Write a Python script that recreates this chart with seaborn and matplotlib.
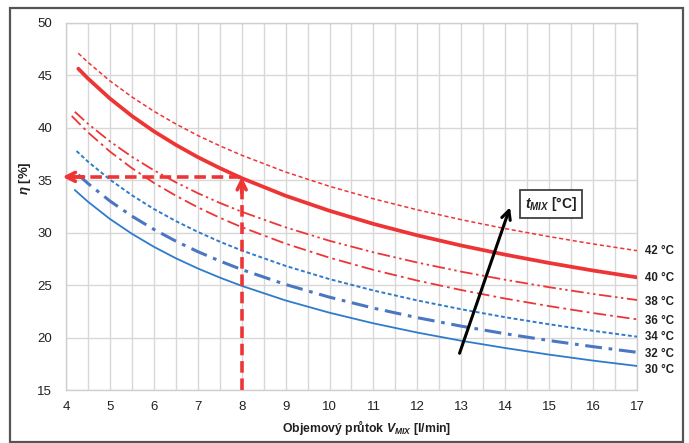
import matplotlib
matplotlib.use("Agg")
import matplotlib.pyplot as plt
import seaborn as sns
import pandas as pd
from matplotlib.patches import Rectangle

# ---- data ----
FLOW_GRID = [4.5, 5, 5.5, 6, 6.5, 7, 7.5, 8, 9, 10, 11, 12, 13, 14, 15, 16, 17]
TEMPS = ["30 °C", "32 °C", "34 °C", "36 °C", "38 °C", "40 °C", "42 °C"]
START_FLOW = [4.2, 4.28, 4.24, 4.13, 4.2, 4.28, 4.28]
START_ETA = [34.05, 35.5, 37.76, 41.1, 41.5, 45.6, 47.07]
ETA_30 = [32.93, 31.29, 29.88, 28.64, 27.55, 26.58, 25.71, 24.92, 23.53, 22.36, 21.35, 20.47, 19.69, 19.00, 18.37, 17.80, 17.29]
ETA_32 = [34.67, 33.00, 31.56, 30.30, 29.18, 28.18, 27.29, 26.47, 25.05, 23.84, 22.80, 21.89, 21.08, 20.36, 19.71, 19.13, 18.59]
ETA_34 = [36.75, 35.04, 33.55, 32.24, 31.09, 30.06, 29.13, 28.29, 26.82, 25.56, 24.48, 23.53, 22.69, 21.93, 21.26, 20.64, 20.08]
ETA_36 = [39.54, 37.71, 36.13, 34.73, 33.51, 32.40, 31.41, 30.51, 28.94, 27.60, 26.44, 25.42, 24.52, 23.71, 22.99, 22.33, 21.73]
ETA_38 = [40.36, 38.68, 37.21, 35.93, 34.78, 33.75, 32.82, 31.98, 30.49, 29.21, 28.11, 27.14, 26.27, 25.50, 24.79, 24.15, 23.57]
ETA_40 = [44.67, 42.76, 41.10, 39.64, 38.35, 37.18, 36.14, 35.18, 33.50, 32.07, 30.82, 29.73, 28.76, 27.89, 27.10, 26.38, 25.73]
ETA_42 = [46.21, 44.44, 42.91, 41.55, 40.34, 39.24, 38.26, 37.36, 35.76, 34.40, 33.21, 32.16, 31.22, 30.37, 29.61, 28.91, 28.27]
SERIES = [ETA_30, ETA_32, ETA_34, ETA_36, ETA_38, ETA_40, ETA_42]
LABEL_ETA = [16.95, 18.4, 20.05, 21.6, 23.4, 25.65, 28.25]

OP_FLOW = 8
OP_ETA = 35.3
ARROW_FROM = (12.96, 18.5)
ARROW_TO = (14.11, 32.4)
BOX_POS = (15.05, 32.7)

X_TICKS = [4, 5, 6, 7, 8, 9, 10, 11, 12, 13, 14, 15, 16, 17]
Y_TICKS = [15, 20, 25, 30, 35, 40, 45, 50]

rows = []
for t, sx, sy, vals in zip(TEMPS, START_FLOW, START_ETA, SERIES):
    rows.append((t, sx, sy))
    for f, v in zip(FLOW_GRID, vals):
        rows.append((t, f, v))
df = pd.DataFrame(rows, columns=["t", "flow", "eta"])

RED = "#EE3535"
BLUE = "#2F7BCB"
BLUE2 = "#4A76C2"
palette = {"30 °C": BLUE, "32 °C": BLUE2, "34 °C": BLUE, "36 °C": RED,
           "38 °C": RED, "40 °C": RED, "42 °C": RED}
sizes = {"30 °C": 1.3, "32 °C": 2.2, "34 °C": 1.4, "36 °C": 1.3,
         "38 °C": 1.3, "40 °C": 2.7, "42 °C": 1.1}
dashes = {"30 °C": "", "32 °C": (5.5, 2.2, 1.2, 2.2), "34 °C": (2.0, 1.3),
          "36 °C": (7, 2.3, 1.5, 2.3), "38 °C": (7, 2, 1.3, 2, 1.3, 2),
          "40 °C": "", "42 °C": (2.7, 1.8)}

sns.set_theme(style="white")
plt.rcParams["font.family"] = ["Liberation Sans", "DejaVu Sans"]
plt.rcParams["mathtext.fontset"] = "custom"
plt.rcParams["mathtext.it"] = "Liberation Sans:italic:bold"
plt.rcParams["mathtext.rm"] = "Liberation Sans:bold"
plt.rcParams["mathtext.bf"] = "Liberation Sans:bold"

fig = plt.figure(figsize=(6.89, 4.43), dpi=100)
ax = fig.add_axes([0.0958, 0.1196, 0.8287, 0.8296])

sns.lineplot(data=df, x="flow", y="eta", hue="t", style="t", size="t",
             palette=palette, dashes=dashes, sizes=sizes, legend=False,
             sort=False, estimator=None, ax=ax, zorder=3)
for ln in ax.lines:
    ln.set_solid_joinstyle("round")
    ln.set_dash_joinstyle("round")

ax.set_xlim(4, 17)
ax.set_ylim(15, 50)
ax.set_xticks(X_TICKS)
ax.set_xticks([x + 0.5 for x in X_TICKS[:-1]], minor=True)
ax.set_yticks(Y_TICKS)
ax.grid(True, which="both", axis="x", color="#D8D8D8", lw=1)
ax.grid(True, which="major", axis="y", color="#D8D8D8", lw=1)
ax.set_axisbelow(True)
for s in ax.spines.values():
    s.set_color("#CFCFCF")
    s.set_linewidth(1)
ax.tick_params(axis="both", which="both", length=0, labelsize=9.5, colors="#202020")
ax.tick_params(axis="x", pad=8)
ax.tick_params(axis="y", pad=10)

ax.set_xlabel(r"Objemový průtok $V_{MIX}$ [l/min]", fontsize=8.8, fontweight="bold",
              color="#202020")
ax.xaxis.label.set_va("center")
ax.xaxis.set_label_coords(0.527, -0.1007)
ax.set_ylabel(r"$\eta$ [%]", fontsize=9.5, fontweight="bold", color="#202020")
ax.yaxis.label.set_va("center")
ax.yaxis.set_label_coords(-0.0718, 0.577)

# temperature labels at right
for t, ly in zip(TEMPS, LABEL_ETA):
    ax.annotate(t, xy=(1.0, ly), xycoords=("axes fraction", "data"),
                xytext=(6, 0), textcoords="offset points", ha="left", va="center",
                fontsize=8.3, fontweight="bold", color="#202020", annotation_clip=False)

# operating point dashed arrows
ax.plot([OP_FLOW, OP_FLOW], [15, OP_ETA - 0.4], color=RED, lw=2.6,
        dashes=(3.2, 1.6), zorder=4, clip_on=False)
ax.plot([4.15, OP_FLOW], [OP_ETA, OP_ETA], color=RED, lw=2.6,
        dashes=(3.2, 1.6), zorder=4, clip_on=False)
ax.annotate("", xy=(OP_FLOW, OP_ETA), xytext=(OP_FLOW, OP_ETA - 1.5),
            arrowprops=dict(arrowstyle="->", lw=2.6, color=RED, mutation_scale=16,
                            shrinkA=0, shrinkB=0), zorder=5)
ax.annotate("", xy=(3.92, OP_ETA), xytext=(4.4, OP_ETA),
            arrowprops=dict(arrowstyle="->", lw=2.6, color=RED, mutation_scale=16,
                            shrinkA=0, shrinkB=0), zorder=5, annotation_clip=False)

# black trend arrow
ax.annotate("", xy=ARROW_TO, xytext=ARROW_FROM,
            arrowprops=dict(arrowstyle="->", lw=2.2, color="black", mutation_scale=16,
                            shrinkA=0, shrinkB=0), zorder=6)
ax.text(BOX_POS[0], BOX_POS[1], r"$t_{MIX}$ [°C]", ha="center", va="center",
        fontsize=10, fontweight="bold", color="#202020", zorder=7,
        bbox=dict(boxstyle="square,pad=0.35", fc="white", ec="#404040", lw=1.3))

# outer frame
fig.patches.append(Rectangle((0.0145, 0.003), 0.9768, 0.979, transform=fig.transFigure,
                             fill=False, ec="#555555", lw=1.6))

fig.savefig("out.png", dpi=100)
